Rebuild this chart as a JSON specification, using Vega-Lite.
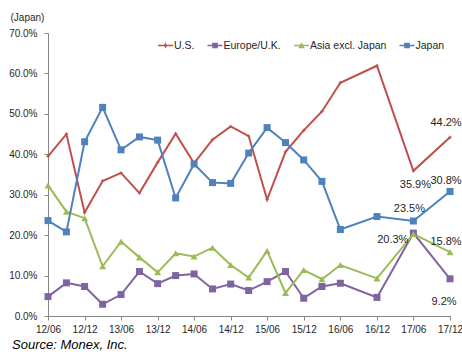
{
  "$schema": "https://vega.github.io/schema/vega-lite/v6.json",
  "width": 402,
  "height": 283,
  "autosize": {"type": "none"},
  "padding": {"left": 48, "top": 33, "right": 12, "bottom": 40},
  "background": "white",
  "config": {
    "view": {"stroke": null},
    "font": "Liberation Sans",
    "axis": {"grid": false}
  },
  "title": {
    "text": "Source: Monex, Inc.",
    "orient": "bottom",
    "anchor": "start",
    "frame": "group",
    "fontStyle": "italic",
    "fontWeight": "normal",
    "fontSize": 13,
    "color": "#000000",
    "dx": -36,
    "offset": 5
  },
  "data": {
    "format": {"parse": {"period": "utc:'%Y-%m-%d'"}},
    "values": [
      {"period": "2012-06-01", "series": "U.S.", "share": 0.395},
      {"period": "2012-09-01", "series": "U.S.", "share": 0.450},
      {"period": "2012-12-01", "series": "U.S.", "share": 0.256},
      {"period": "2013-03-01", "series": "U.S.", "share": 0.334},
      {"period": "2013-06-01", "series": "U.S.", "share": 0.354},
      {"period": "2013-09-01", "series": "U.S.", "share": 0.304},
      {"period": "2013-12-01", "series": "U.S.", "share": 0.380},
      {"period": "2014-03-01", "series": "U.S.", "share": 0.451},
      {"period": "2014-06-01", "series": "U.S.", "share": 0.378},
      {"period": "2014-09-01", "series": "U.S.", "share": 0.436},
      {"period": "2014-12-01", "series": "U.S.", "share": 0.469},
      {"period": "2015-03-01", "series": "U.S.", "share": 0.445},
      {"period": "2015-06-01", "series": "U.S.", "share": 0.288},
      {"period": "2015-09-01", "series": "U.S.", "share": 0.406},
      {"period": "2015-12-01", "series": "U.S.", "share": 0.459},
      {"period": "2016-03-01", "series": "U.S.", "share": 0.506},
      {"period": "2016-06-01", "series": "U.S.", "share": 0.577},
      {"period": "2016-12-01", "series": "U.S.", "share": 0.619},
      {"period": "2017-06-01", "series": "U.S.", "share": 0.359},
      {"period": "2017-12-01", "series": "U.S.", "share": 0.442},

      {"period": "2012-06-01", "series": "Europe/U.K.", "share": 0.048},
      {"period": "2012-09-01", "series": "Europe/U.K.", "share": 0.082},
      {"period": "2012-12-01", "series": "Europe/U.K.", "share": 0.073},
      {"period": "2013-03-01", "series": "Europe/U.K.", "share": 0.029},
      {"period": "2013-06-01", "series": "Europe/U.K.", "share": 0.053},
      {"period": "2013-09-01", "series": "Europe/U.K.", "share": 0.110},
      {"period": "2013-12-01", "series": "Europe/U.K.", "share": 0.080},
      {"period": "2014-03-01", "series": "Europe/U.K.", "share": 0.100},
      {"period": "2014-06-01", "series": "Europe/U.K.", "share": 0.104},
      {"period": "2014-09-01", "series": "Europe/U.K.", "share": 0.067},
      {"period": "2014-12-01", "series": "Europe/U.K.", "share": 0.079},
      {"period": "2015-03-01", "series": "Europe/U.K.", "share": 0.063},
      {"period": "2015-06-01", "series": "Europe/U.K.", "share": 0.085},
      {"period": "2015-09-01", "series": "Europe/U.K.", "share": 0.110},
      {"period": "2015-12-01", "series": "Europe/U.K.", "share": 0.044},
      {"period": "2016-03-01", "series": "Europe/U.K.", "share": 0.073},
      {"period": "2016-06-01", "series": "Europe/U.K.", "share": 0.081},
      {"period": "2016-12-01", "series": "Europe/U.K.", "share": 0.046},
      {"period": "2017-06-01", "series": "Europe/U.K.", "share": 0.205},
      {"period": "2017-12-01", "series": "Europe/U.K.", "share": 0.092},

      {"period": "2012-06-01", "series": "Asia excl. Japan", "share": 0.323},
      {"period": "2012-09-01", "series": "Asia excl. Japan", "share": 0.258},
      {"period": "2012-12-01", "series": "Asia excl. Japan", "share": 0.242},
      {"period": "2013-03-01", "series": "Asia excl. Japan", "share": 0.123},
      {"period": "2013-06-01", "series": "Asia excl. Japan", "share": 0.184},
      {"period": "2013-09-01", "series": "Asia excl. Japan", "share": 0.145},
      {"period": "2013-12-01", "series": "Asia excl. Japan", "share": 0.108},
      {"period": "2014-03-01", "series": "Asia excl. Japan", "share": 0.155},
      {"period": "2014-06-01", "series": "Asia excl. Japan", "share": 0.147},
      {"period": "2014-09-01", "series": "Asia excl. Japan", "share": 0.169},
      {"period": "2014-12-01", "series": "Asia excl. Japan", "share": 0.126},
      {"period": "2015-03-01", "series": "Asia excl. Japan", "share": 0.095},
      {"period": "2015-06-01", "series": "Asia excl. Japan", "share": 0.161},
      {"period": "2015-09-01", "series": "Asia excl. Japan", "share": 0.057},
      {"period": "2015-12-01", "series": "Asia excl. Japan", "share": 0.114},
      {"period": "2016-03-01", "series": "Asia excl. Japan", "share": 0.091},
      {"period": "2016-06-01", "series": "Asia excl. Japan", "share": 0.126},
      {"period": "2016-12-01", "series": "Asia excl. Japan", "share": 0.093},
      {"period": "2017-06-01", "series": "Asia excl. Japan", "share": 0.203},
      {"period": "2017-12-01", "series": "Asia excl. Japan", "share": 0.158},

      {"period": "2012-06-01", "series": "Japan", "share": 0.236},
      {"period": "2012-09-01", "series": "Japan", "share": 0.208},
      {"period": "2012-12-01", "series": "Japan", "share": 0.431},
      {"period": "2013-03-01", "series": "Japan", "share": 0.516},
      {"period": "2013-06-01", "series": "Japan", "share": 0.411},
      {"period": "2013-09-01", "series": "Japan", "share": 0.443},
      {"period": "2013-12-01", "series": "Japan", "share": 0.435},
      {"period": "2014-03-01", "series": "Japan", "share": 0.292},
      {"period": "2014-06-01", "series": "Japan", "share": 0.376},
      {"period": "2014-09-01", "series": "Japan", "share": 0.330},
      {"period": "2014-12-01", "series": "Japan", "share": 0.328},
      {"period": "2015-03-01", "series": "Japan", "share": 0.403},
      {"period": "2015-06-01", "series": "Japan", "share": 0.466},
      {"period": "2015-09-01", "series": "Japan", "share": 0.429},
      {"period": "2015-12-01", "series": "Japan", "share": 0.386},
      {"period": "2016-03-01", "series": "Japan", "share": 0.333},
      {"period": "2016-06-01", "series": "Japan", "share": 0.214},
      {"period": "2016-12-01", "series": "Japan", "share": 0.246},
      {"period": "2017-06-01", "series": "Japan", "share": 0.235},
      {"period": "2017-12-01", "series": "Japan", "share": 0.308}
    ]
  },
  "resolve": {"scale": {"color": "independent", "shape": "independent"}},
  "encoding": {
    "x": {
      "field": "period",
      "type": "temporal",
      "scale": {
        "type": "utc",
        "domain": [
          {"year": 2012, "month": 6, "date": 1, "utc": true},
          {"year": 2017, "month": 12, "date": 1, "utc": true}
        ]
      },
      "axis": {
        "title": null,
        "format": "%y/%m",
        "values": [
          {"year": 2012, "month": 6, "date": 1, "utc": true},
          {"year": 2012, "month": 12, "date": 1, "utc": true},
          {"year": 2013, "month": 6, "date": 1, "utc": true},
          {"year": 2013, "month": 12, "date": 1, "utc": true},
          {"year": 2014, "month": 6, "date": 1, "utc": true},
          {"year": 2014, "month": 12, "date": 1, "utc": true},
          {"year": 2015, "month": 6, "date": 1, "utc": true},
          {"year": 2015, "month": 12, "date": 1, "utc": true},
          {"year": 2016, "month": 6, "date": 1, "utc": true},
          {"year": 2016, "month": 12, "date": 1, "utc": true},
          {"year": 2017, "month": 6, "date": 1, "utc": true},
          {"year": 2017, "month": 12, "date": 1, "utc": true}
        ],
        "labelFontSize": 10,
        "labelColor": "#262626",
        "labelPadding": 4,
        "labelFlush": false,
        "labelOverlap": false,
        "domainColor": "#868686",
        "tickColor": "#868686",
        "tickSize": 4
      }
    },
    "y": {
      "field": "share",
      "type": "quantitative",
      "scale": {"domain": [0, 0.7], "nice": false, "zero": true},
      "axis": {
        "title": "(Japan)",
        "titleAngle": 0,
        "titleAlign": "left",
        "titleBaseline": "middle",
        "titleX": -38,
        "titleY": -16,
        "titleFontSize": 10,
        "titleFontWeight": "normal",
        "titleColor": "#262626",
        "values": [0, 0.1, 0.2, 0.3, 0.4, 0.5, 0.6, 0.7],
        "format": ".1%",
        "labelFontSize": 10,
        "labelColor": "#262626",
        "labelPadding": 7,
        "domainColor": "#868686",
        "tickColor": "#868686",
        "tickSize": 4
      }
    }
  },
  "layer": [
    {
      "mark": {"type": "line", "strokeWidth": 2},
      "encoding": {
        "color": {
          "field": "series",
          "type": "nominal",
          "scale": {
            "domain": ["U.S.", "Europe/U.K.", "Asia excl. Japan", "Japan"],
            "range": ["#C0504D", "#8064A2", "#9BBB59", "#4F81BD"]
          },
          "legend": null
        }
      }
    },
    {
      "mark": {"type": "point", "filled": true, "opacity": 1, "size": 49},
      "encoding": {
        "color": {
          "field": "series",
          "type": "nominal",
          "scale": {
            "domain": ["U.S.", "Europe/U.K.", "Asia excl. Japan", "Japan"],
            "range": ["#C0504D", "#8064A2", "#9BBB59", "#4F81BD"]
          },
          "legend": null
        },
        "shape": {
          "field": "series",
          "type": "nominal",
          "scale": {
            "domain": ["U.S.", "Europe/U.K.", "Asia excl. Japan", "Japan"],
            "range": [
              "M0,-0.62L0.2,-0.2L0.62,0L0.2,0.2L0,0.62L-0.2,0.2L-0.62,0L-0.2,-0.2Z",
              "square",
              "triangle-up",
              "square"
            ]
          },
          "legend": null
        }
      }
    },
    {
      "mark": {"type": "point", "filled": true, "opacity": 0},
      "encoding": {
        "color": {
          "field": "series",
          "type": "nominal",
          "scale": {
            "domain": ["U.S.", "Europe/U.K.", "Asia excl. Japan", "Japan"],
            "range": ["#C0504D", "#8064A2", "#9BBB59", "#4F81BD"]
          },
          "legend": {
            "title": null,
            "orient": "none",
            "direction": "horizontal",
            "legendX": 110,
            "legendY": 5,
            "labelFontSize": 10.5,
            "labelColor": "#262626",
            "labelOffset": 1,
            "columnPadding": 12.5,
            "symbolSize": 225,
            "symbolOpacity": 1,
            "symbolStrokeWidth": 0
          }
        },
        "shape": {
          "field": "series",
          "type": "nominal",
          "scale": {
            "domain": ["U.S.", "Europe/U.K.", "Asia excl. Japan", "Japan"],
            "range": [
              "M-1,-0.09H1V0.09H-1ZM0,-0.42L0.13,-0.13L0.42,0L0.13,0.13L0,0.42L-0.13,0.13L-0.42,0L-0.13,-0.13Z",
              "M-1,-0.09H1V0.09H-1ZM-0.38,-0.38H0.38V0.38H-0.38Z",
              "M-1,-0.09H1V0.09H-1ZM0,-0.42L0.44,0.36H-0.44Z",
              "M-1,-0.09H1V0.09H-1ZM-0.38,-0.38H0.38V0.38H-0.38Z"
            ]
          },
          "legend": {
            "title": null,
            "orient": "none",
            "direction": "horizontal",
            "legendX": 110,
            "legendY": 5,
            "labelFontSize": 10.5,
            "labelColor": "#262626",
            "labelOffset": 1,
            "columnPadding": 12.5,
            "symbolSize": 225,
            "symbolOpacity": 1,
            "symbolStrokeWidth": 0
          }
        }
      }
    },
    {
      "transform": [{"filter": "datum.series === 'U.S.' && utcyear(datum.period) === 2017 && utcmonth(datum.period) === 11"}],
      "mark": {"type": "text", "fontSize": 11, "color": "#262626", "align": "center", "baseline": "middle", "dx": -4, "dy": -14},
      "encoding": {"text": {"field": "share", "type": "quantitative", "format": ".1%"}}
    },
    {
      "transform": [{"filter": "datum.series === 'U.S.' && utcyear(datum.period) === 2017 && utcmonth(datum.period) === 5"}],
      "mark": {"type": "text", "fontSize": 11, "color": "#262626", "align": "center", "baseline": "middle", "dx": 2, "dy": 14},
      "encoding": {"text": {"field": "share", "type": "quantitative", "format": ".1%"}}
    },
    {
      "transform": [{"filter": "datum.series === 'Japan' && utcyear(datum.period) === 2017 && utcmonth(datum.period) === 11"}],
      "mark": {"type": "text", "fontSize": 11, "color": "#262626", "align": "center", "baseline": "middle", "dx": -4, "dy": -10},
      "encoding": {"text": {"field": "share", "type": "quantitative", "format": ".1%"}}
    },
    {
      "transform": [{"filter": "datum.series === 'Japan' && utcyear(datum.period) === 2017 && utcmonth(datum.period) === 5"}],
      "mark": {"type": "text", "fontSize": 11, "color": "#262626", "align": "center", "baseline": "middle", "dx": -4, "dy": -12},
      "encoding": {"text": {"field": "share", "type": "quantitative", "format": ".1%"}}
    },
    {
      "transform": [{"filter": "datum.series === 'Asia excl. Japan' && utcyear(datum.period) === 2017 && utcmonth(datum.period) === 11"}],
      "mark": {"type": "text", "fontSize": 11, "color": "#262626", "align": "center", "baseline": "middle", "dx": -4, "dy": -10},
      "encoding": {"text": {"field": "share", "type": "quantitative", "format": ".1%"}}
    },
    {
      "transform": [{"filter": "datum.series === 'Asia excl. Japan' && utcyear(datum.period) === 2017 && utcmonth(datum.period) === 5"}],
      "mark": {"type": "text", "fontSize": 11, "color": "#262626", "align": "right", "baseline": "middle", "dx": -5, "dy": 6},
      "encoding": {"text": {"field": "share", "type": "quantitative", "format": ".1%"}}
    },
    {
      "transform": [{"filter": "datum.series === 'Europe/U.K.' && utcyear(datum.period) === 2017 && utcmonth(datum.period) === 11"}],
      "mark": {"type": "text", "fontSize": 11, "color": "#262626", "align": "center", "baseline": "middle", "dx": -6, "dy": 23},
      "encoding": {"text": {"field": "share", "type": "quantitative", "format": ".1%"}}
    }
  ]
}
